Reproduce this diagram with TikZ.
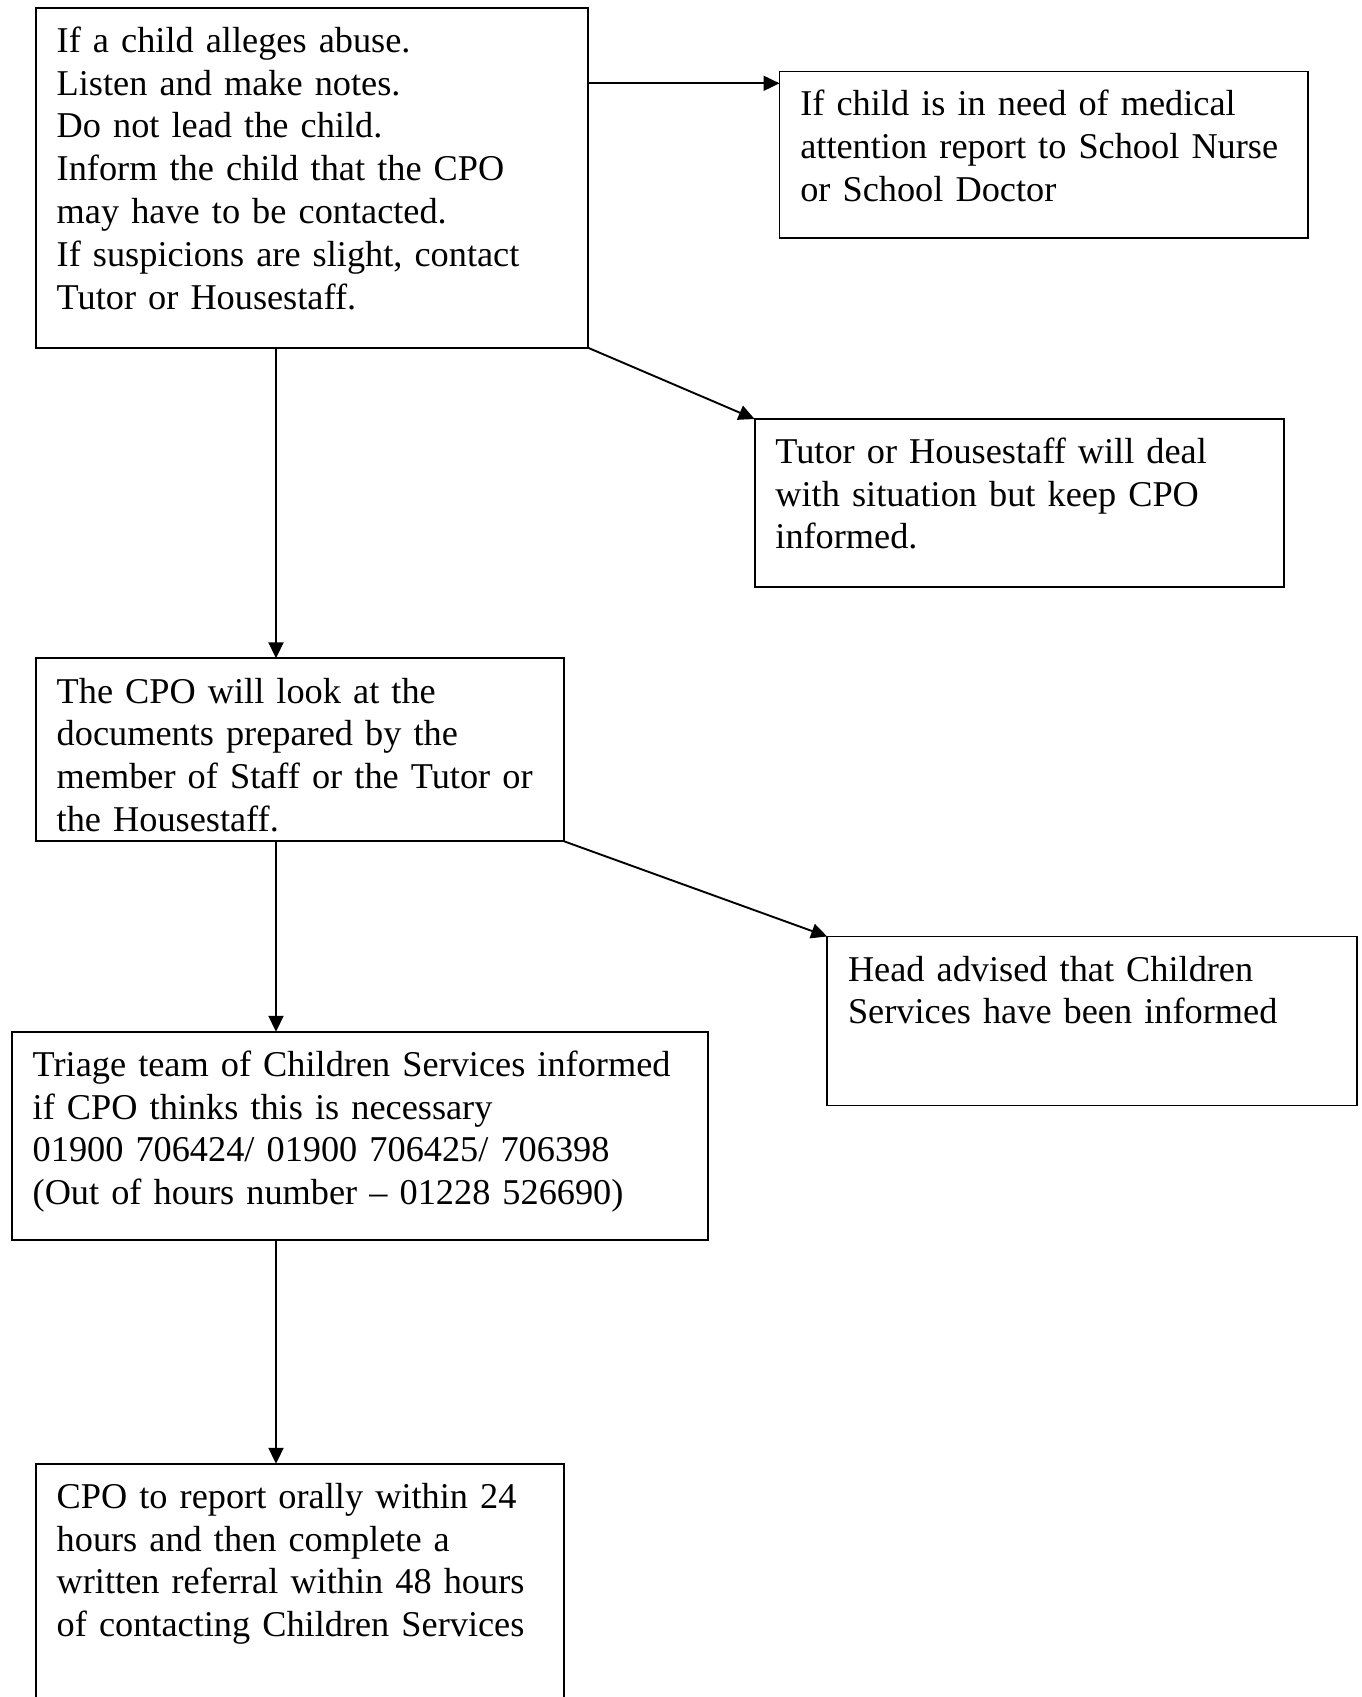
\documentclass[tikz,border=0pt]{standalone}
\usepackage{fontspec}
\setmainfont{Liberation Serif}
\usetikzlibrary{arrows.meta}

\tikzset{
  box/.style={draw, line width=1.8pt, anchor=north west, inner sep=0pt, outer sep=0pt},
  txt/.style={anchor=base west, inner sep=0pt, align=left, font=\fontsize{36.3}{42.8}\selectfont},
  flow/.style={line width=1.9pt, -{Triangle[length=16pt,width=15pt]}}
}

\begin{document}
\begin{tikzpicture}[x=1pt,y=-1pt]

\useasboundingbox (0,0) rectangle (1362,1697);

\node[box, minimum width=552pt, minimum height=340pt] (alleg) at (35.7,7.6) {};
\node[box, minimum width=528.4pt, minimum height=166.7pt] (medic) at (779.5,71.5) {};
\node[box, minimum width=529.4pt, minimum height=167.8pt] (tutor) at (754.6,419) {};
\node[box, minimum width=528.4pt, minimum height=183pt] (review) at (35.7,658.3) {};
\node[box, minimum width=529.5pt, minimum height=168.9pt] (head) at (827.2,936.5) {};
\node[box, minimum width=696.2pt, minimum height=207.9pt] (triage) at (11.9,1031.8) {};
\node[box, minimum width=528.4pt, minimum height=242pt] (report) at (35.7,1463.8) {};

\node[txt, text width=520pt] (alleg-txt) at (56.5,52.2) {If a child alleges abuse.\\Listen and make notes.\\Do not lead the child.\\Inform the child that the CPO\\may have to be contacted.\\If suspicions are slight, contact\\Tutor or Housestaff.};
\node[txt, text width=500pt] (medic-txt) at (800.1,115.8) {If child is in need of medical\\attention report to School Nurse\\or School Doctor};
\node[txt, text width=500pt] (tutor-txt) at (775.2,463.3) {Tutor or Housestaff will deal\\with situation but keep CPO\\informed.};
\node[txt, text width=500pt] (review-txt) at (56.5,703) {The CPO will look at the\\documents prepared by the\\member of Staff or the Tutor or\\the Housestaff.};
\node[txt, text width=500pt] (head-txt) at (847.8,981) {Head advised that Children\\Services have been informed};
\node[txt, text width=670pt] (triage-txt) at (32.5,1076.2) {Triage team of Children Services informed\\if CPO thinks this is necessary\\01900 706424/ 01900 706425/ 706398\\(Out of hours number – 01228 526690)};
\node[txt, text width=500pt] (report-txt) at (56.5,1508.2) {CPO to report orally within 24\\hours and then complete a\\written referral within 48 hours\\of contacting Children Services};

\coordinate (col) at (276,0);

\draw[flow] ([yshift=-75.7pt]alleg.north east) -- ([yshift=-75.7pt]alleg.north east -| medic.west);
\draw[flow] (alleg.south east) -- (tutor.north west);
\draw[flow] (alleg.south -| col) -- (review.north -| col);
\draw[flow] (review.south east) -- (head.north west);
\draw[flow] (review.south -| col) -- (triage.north -| col);
\draw[flow] (triage.south -| col) -- (report.north -| col);

\end{tikzpicture}
\end{document}
